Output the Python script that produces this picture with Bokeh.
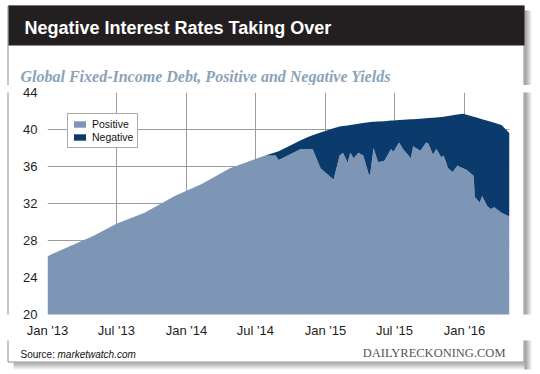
import pandas as pd
from bokeh.plotting import figure
from bokeh.layouts import column, row
from bokeh.models import (Range1d, FixedTicker, DatetimeTickFormatter, Label, Legend,
                          LegendItem, ColumnDataSource)
from bokeh.embed import file_html
from bokeh.resources import INLINE

# ---------------- data ----------------
dates = ["2013-01-01", "2013-01-28", "2013-05-01", "2013-07-01", "2013-09-13", "2013-12-01",
         "2014-02-10", "2014-04-25", "2014-07-27", "2014-08-23", "2014-08-31", "2014-10-28",
         "2014-11-16", "2014-11-28", "2014-12-19", "2015-01-22", "2015-02-07", "2015-02-16",
         "2015-02-28", "2015-03-07", "2015-03-16", "2015-03-28", "2015-04-10", "2015-04-25",
         "2015-04-28", "2015-05-07", "2015-05-19", "2015-06-04", "2015-06-22", "2015-06-28",
         "2015-07-13", "2015-07-25", "2015-08-13", "2015-08-19", "2015-09-07", "2015-09-22",
         "2015-09-28", "2015-10-10", "2015-10-19", "2015-11-01", "2015-11-07", "2015-11-19",
         "2015-12-01", "2015-12-13", "2015-12-28", "2016-01-04", "2016-01-25", "2016-01-28",
         "2016-02-10", "2016-02-16", "2016-03-01", "2016-03-10", "2016-03-19", "2016-04-07",
         "2016-04-28"]

positive = [26.3, 26.8, 28.5, 29.8, 31.0, 32.8, 34.1, 35.8, 37.2, 37.2, 36.7, 37.9,
            37.9, 37.9, 35.8, 34.6, 37.2, 37.5, 36.4, 37.5, 36.9, 37.5, 37.2, 35.1,
            35.1, 38.0, 36.5, 36.6, 37.9, 37.6, 38.6, 37.8, 36.9, 38.2, 37.7, 38.6,
            38.5, 37.3, 37.9, 37.0, 37.2, 35.8, 35.4, 36.1, 35.8, 35.7, 35.0, 32.7,
            32.1, 32.8, 31.7, 31.4, 31.6, 31.0, 30.6]

negative = [0, 0, 0, 0, 0, 0, 0, 0, 0, 0.33, 0.96, 0.93,
            1.3, 1.47, 3.87, 5.53, 3.12, 2.87, 4.04, 3.0, 3.65, 3.12, 3.49, 5.68,
            5.7, 2.83, 4.36, 4.3, 3.06, 3.37, 2.42, 3.25, 4.2, 2.92, 3.47, 2.61,
            2.73, 3.97, 3.39, 4.35, 4.19, 5.66, 6.14, 5.51, 5.9, 5.93, 6.37, 8.64,
            9.09, 8.32, 9.24, 9.43, 9.12, 9.5, 9.0]

series_names = ["Positive", "Negative"]
tick_dates = ["2013-01-01", "2013-07-01", "2014-01-01", "2014-07-01",
              "2015-01-01", "2015-07-01", "2016-01-01"]
y_ticks = [20, 24, 28, 32, 36, 40, 44]

title_text = "Negative Interest Rates Taking Over"
subtitle_text = "Global Fixed-Income Debt, Positive and Negative Yields"
source_label = "Source:"
source_site = "marketwatch.com"
brand_text = "DAILYRECKONING.COM"

# ---------------- styling ----------------
POS = "#7d96b5"
NEG = "#0b3a6d"
GRID = "#9c9c9c"
SANS = "Liberation Sans"
SERIF = "Liberation Serif"
W, H = 540, 374
TOP_H, MID_H = 85, 255
BOT_H = H - TOP_H - MID_H
LEFT_W, CHART_W = 10, 512
RIGHT_W = W - LEFT_W - CHART_W


def decorate(f):
    """Card outline, drop shadow and header band, in page pixel coordinates."""
    for i in range(7):
        f.quad(left=524 + i, right=525 + i, top=10, bottom=369, fill_color="black",
               fill_alpha=0.42 * (1 - i / 7.0), line_color=None)
    for j in range(7):
        f.quad(left=13, right=524, top=362 + j, bottom=363 + j, fill_color="black",
               fill_alpha=0.35 * (1 - j / 7.0), line_color=None)
    f.quad(left=7.5, right=523.5, top=5.5, bottom=361.5, fill_color="white",
           line_color="#8f8f8f", line_width=1)
    f.quad(left=8, right=524, top=5, bottom=45, fill_color="#231f20", line_color=None)


def strip(w, h, x0, y0):
    f = figure(width=w, height=h, x_range=Range1d(x0, x0 + w), y_range=Range1d(y0 + h, y0),
               min_border=0, x_axis_location=None, y_axis_location=None, title=None,
               toolbar_location=None, output_backend="svg", outline_line_color=None,
               background_fill_color="white", border_fill_color="white")
    f.grid.visible = False
    decorate(f)
    return f


def label(f, text, x, y, size, font=SANS, style="normal", color="#000000", align="left"):
    # y is the wanted baseline in page pixels; the renderer sits ~1/3 em lower
    px = float(size.replace("px", ""))
    f.add_layout(Label(x=x, y=y - 0.33 * px, text=text, text_font=font, text_font_size=size,
                       text_font_style=style, text_color=color, text_align=align,
                       text_baseline="alphabetic"))


# ---------------- header ----------------
top = strip(W, TOP_H, 0, 0)
label(top, title_text, 24, 33.3, "18px", style="bold", color="white")
label(top, subtitle_text, 20, 81, "16px", font=SERIF, style="bold italic", color="#8ba3b8")

# ---------------- chart ----------------
dt = pd.to_datetime(dates)
src = ColumnDataSource(dict(date=dt, positive=positive, negative=negative))
tick_ms = [float(v) for v in (pd.to_datetime(tick_dates).astype("int64") // 10**6)]

p = figure(width=CHART_W, height=MID_H, x_axis_type="datetime",
           x_range=Range1d(dt[0], dt[-1]), y_range=Range1d(20, 44),
           output_backend="svg", toolbar_location=None, title=None,
           min_border_left=37, min_border_right=13, min_border_top=7, min_border_bottom=25,
           background_fill_color="white", border_fill_color="white",
           outline_line_color=None)

rs = p.varea_stack(["positive", "negative"], x="date", source=src, color=[POS, NEG])

p.xaxis.ticker = FixedTicker(ticks=tick_ms)
p.xgrid.ticker = FixedTicker(ticks=tick_ms)
fmt = "%b '%y"
p.xaxis.formatter = DatetimeTickFormatter(days=fmt, months=fmt, years=fmt, hours=fmt,
                                          hourmin=fmt, minutes=fmt, minsec=fmt, seconds=fmt,
                                          milliseconds=fmt, microseconds=fmt)
p.yaxis.ticker = FixedTicker(ticks=y_ticks)
p.ygrid.ticker = FixedTicker(ticks=y_ticks)
for ax in (p.xaxis, p.yaxis):
    ax.axis_line_color = None
    ax.major_tick_line_color = None
    ax.minor_tick_line_color = None
    ax.major_tick_out = 0
    ax.major_tick_in = 0
    ax.major_label_text_font = SANS
    ax.major_label_text_font_size = "13px"
    ax.major_label_text_color = "#1e1e1e"
p.yaxis.major_label_standoff = 10
p.xaxis.major_label_standoff = 8
p.grid.grid_line_color = GRID
p.grid.grid_line_width = 1

legend = Legend(items=[LegendItem(label=series_names[0], renderers=[rs[0]]),
                       LegendItem(label=series_names[1], renderers=[rs[1]])],
                location=(20, 166), border_line_color="#555555", border_line_width=1,
                background_fill_color="white", background_fill_alpha=1,
                label_text_font=SANS, label_text_font_size="10.5px",
                label_text_color="#111111",
                glyph_width=15, glyph_height=8, label_standoff=5, padding=4,
                spacing=1, margin=0, label_height=12)
p.add_layout(legend)

left = strip(LEFT_W, MID_H, 0, TOP_H)
right = strip(RIGHT_W, MID_H, LEFT_W + CHART_W, TOP_H)

# ---------------- footer ----------------
bottom = strip(W, BOT_H, 0, TOP_H + MID_H)
label(bottom, source_label, 20, 357.5, "10px", color="#111111")
label(bottom, source_site, 57, 357.5, "10px", style="italic", color="#111111")
label(bottom, brand_text, 505, 356.7, "12.5px", font=SERIF, color="#555555", align="right")

layout = column(top, row(left, p, right, spacing=0), bottom, spacing=0)
open("out.html", "w").write(file_html(layout, INLINE))
